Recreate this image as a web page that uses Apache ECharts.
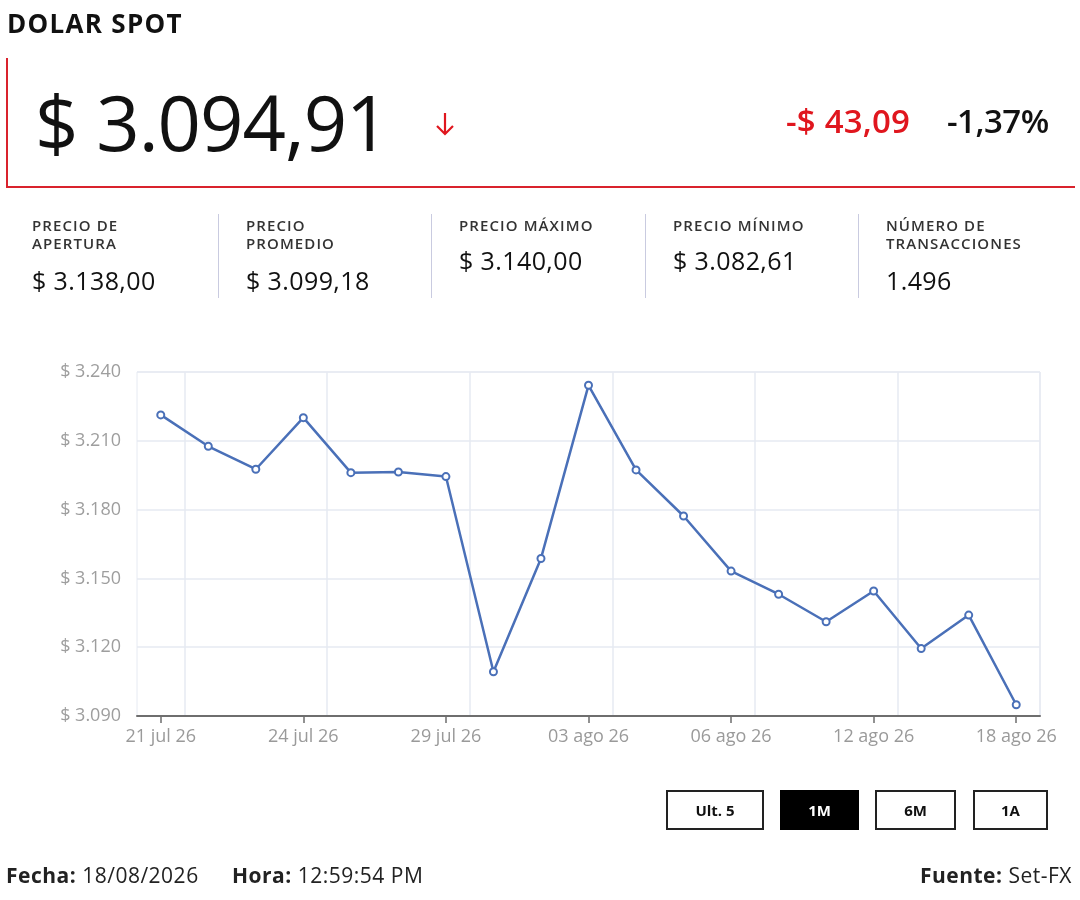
<!DOCTYPE html>
<html>
<head>
<meta charset="utf-8">
<script src="https://cdn.jsdelivr.net/npm/echarts@6/dist/echarts.min.js"></script>
<style>
  html, body { margin: 0; padding: 0; background: #fff; }
  body { width: 1080px; height: 900px; position: relative; overflow: hidden; font-family: 'Open Sans', 'Noto Sans', sans-serif; color: #111; }
  #chart { position: absolute; left: 0; top: 0; width: 1080px; height: 900px; }
  .abs { position: absolute; white-space: nowrap; }
  .title { left: 7px; top: 5px; font-size: 26px; font-weight: 700; letter-spacing: 1.3px; }
  .box { left: 6px; top: 58px; width: 1067px; height: 128px; border-left: 2px solid #d9232d; border-bottom: 2px solid #d9232d; }
  .price { left: 35px; top: 70px; font-size: 76px; font-weight: 400; letter-spacing: -1px; }
  .arrow { left: 434px; top: 111px; }
  .chg { left: 786px; top: 98px; font-size: 33px; font-weight: 600; color: #e0161e; letter-spacing: 0.2px; }
  .pct { left: 947px; top: 98px; font-size: 33px; font-weight: 600; color: #111; letter-spacing: -0.5px; }
  .lbl { font-size: 15px; font-weight: 600; color: #333; line-height: 18px; text-transform: uppercase; letter-spacing: 1.1px; }
  .val { font-size: 25px; color: #111; letter-spacing: 0.4px; }
  .sep { width: 1px; height: 84px; top: 214px; background: #c9cbe0; }
  .btn { top: 790px; height: 36px; border: 2px solid #222; font-size: 15px; font-weight: 700; text-align: center; line-height: 36px; box-sizing: content-box; }
  .foot { top: 861px; font-size: 21px; color: #222; letter-spacing: 0.5px; }
  .foot b { font-weight: 700; }
</style>
</head>
<body>
<div id="chart"></div>

<div class="abs title">DOLAR SPOT</div>
<div class="abs box"></div>
<div class="abs price">$ 3.094,91</div>
<svg class="abs arrow" width="22" height="26" viewBox="0 0 22 26">
  <path d="M11 2 L11 23 M3 15 L11 23 L19 15" fill="none" stroke="#e0161e" stroke-width="2.2"/>
</svg>
<div class="abs chg">-$ 43,09</div>
<div class="abs pct">-1,37%</div>

<div class="abs lbl" style="left:32px;top:216px">Precio de<br>apertura</div>
<div class="abs val" style="left:32px;top:263px">$ 3.138,00</div>
<div class="abs sep" style="left:218px"></div>
<div class="abs lbl" style="left:246px;top:216px">Precio<br>promedio</div>
<div class="abs val" style="left:246px;top:263px">$ 3.099,18</div>
<div class="abs sep" style="left:431px"></div>
<div class="abs lbl" style="left:459px;top:216px">Precio máximo</div>
<div class="abs val" style="left:459px;top:243px">$ 3.140,00</div>
<div class="abs sep" style="left:645px"></div>
<div class="abs lbl" style="left:673px;top:216px">Precio mínimo</div>
<div class="abs val" style="left:673px;top:243px">$ 3.082,61</div>
<div class="abs sep" style="left:858px"></div>
<div class="abs lbl" style="left:886px;top:216px">Número de<br>transacciones</div>
<div class="abs val" style="left:886px;top:263px">1.496</div>

<div class="abs btn" style="left:666px;width:94px;">Ult. 5</div>
<div class="abs btn" style="left:780px;width:75px;background:#000;color:#fff;border-color:#000;">1M</div>
<div class="abs btn" style="left:875px;width:77px;">6M</div>
<div class="abs btn" style="left:973px;width:71px;">1A</div>

<div class="abs foot" style="left:6px"><b>Fecha:</b> 18/08/2026</div>
<div class="abs foot" style="left:232px"><b>Hora:</b> 12:59:54 PM</div>
<div class="abs foot" style="right:8px"><b>Fuente:</b> Set-FX</div>

<script>
  // dias habiles del ultimo mes
  const fechas = ['21 jul 26', '22 jul 26', '23 jul 26', '24 jul 26', '27 jul 26', '28 jul 26', '29 jul 26',
    '30 jul 26', '31 jul 26', '03 ago 26', '04 ago 26', '05 ago 26', '06 ago 26', '10 ago 26',
    '11 ago 26', '12 ago 26', '13 ago 26', '14 ago 26', '18 ago 26']
  const precios = [3221.3, 3207.6, 3197.6, 3220.1, 3196.1, 3196.4, 3194.4, 3109.3, 3158.7, 3234.2,
    3197.3, 3177.2, 3153.2, 3143.1, 3131.1, 3144.5, 3119.4, 3134.0, 3094.9]
  const yMin = 3090
  const yMax = 3240
  const yStep = 30

  const fmtMiles = function (v) {
    return '$ ' + String(Math.round(v)).replace(/\B(?=(\d{3})+(?!\d))/g, '.')
  }

  const chart = echarts.init(document.getElementById('chart'))
  chart.setOption({
    animation: false,
    grid: {
      left: 137,
      right: 40,
      top: 372,
      bottom: 184,
      show: true,
      borderColor: '#e6eaf2',
      borderWidth: 1
    },
    xAxis: {
      type: 'category',
      data: fechas,
      boundaryGap: true,
      axisLine: { lineStyle: { color: '#6e6e6e', width: 2 } },
      axisTick: {
        show: true,
        alignWithLabel: true,
        interval: 2,
        length: 7,
        lineStyle: { color: '#6e6e6e', width: 1.5 }
      },
      axisLabel: {
        interval: 2,
        color: '#9a9a9a',
        fontSize: 18,
        margin: 12,
        fontFamily: 'Open Sans'
      },
      splitLine: {
        show: true,
        interval: function (i) { return i % 3 === 1 },
        lineStyle: { color: '#e6eaf2', width: 1.5 }
      }
    },
    yAxis: {
      type: 'value',
      min: yMin,
      max: yMax,
      interval: yStep,
      axisLine: { show: false },
      axisTick: { show: false },
      axisLabel: {
        color: '#9e9e9e',
        fontSize: 18,
        margin: 16,
        fontFamily: 'Open Sans',
        formatter: fmtMiles
      },
      splitLine: { lineStyle: { color: '#e6eaf2', width: 1.5 } }
    },
    series: [
      {
        type: 'line',
        data: precios,
        symbol: 'emptyCircle',
        symbolSize: 7,
        lineStyle: { color: '#4a70b8', width: 2.5 },
        itemStyle: { color: '#4a70b8', borderWidth: 2 }
      }
    ]
  })
</script>
</body>
</html>
